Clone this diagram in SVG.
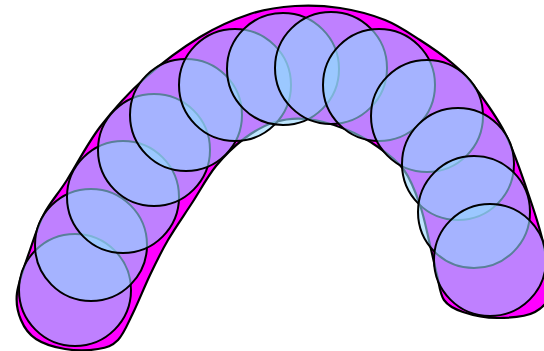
<svg xmlns="http://www.w3.org/2000/svg" width="544" height="351" viewBox="0 0 544 351">
<style>
.hull{fill:#ff00ff;stroke:#000;stroke-width:2.2;stroke-linejoin:round}
.c{fill:#94d5ff;fill-opacity:0.6;stroke:#000;stroke-width:2}
</style>
<rect width="544" height="351" fill="#fff"/>
<g id="hull">
<path class="hull" d="M 17,293 C 18.5,281.3 25.5,263.2 30,250 C 34.5,236.8 37.8,225.7 44,214 C 50.2,202.3 57.7,194.5 67,180 C 76.3,165.5 87,144 100,127 C 113,110 128.3,93 145,78 C 161.7,63 182.5,47.7 200,37 C 217.5,26.3 234.2,19.2 250,14 C 265.8,8.8 280,7 295,6 C 310,5 325,5.7 340,8 C 355,10.3 371.7,14.7 385,20 C 398.3,25.3 408.8,32.8 420,40 C 431.2,47.2 443,55.3 452,63 C 461,70.7 465.2,74.3 474,86 C 482.8,97.7 496.2,115.7 505,133 C 513.8,150.3 520.7,171.8 527,190 C 533.3,208.2 539.2,225.3 543,242 C 546.8,258.7 551.3,278.3 550,290 C 548.7,301.7 543.8,307.3 535,312 C 526.2,316.7 509,318 497,318 C 485,318 471.8,315 463,312 C 454.2,309 448.3,306.2 444,300 C 439.7,293.8 439.3,284.2 437,275 C 434.7,265.8 432.8,256.7 430,245 C 427.2,233.3 424.3,217.5 420,205 C 415.7,192.5 411,179.7 404,170 C 397,160.3 387.8,153.8 378,147 C 368.2,140.2 356.8,133.7 345,129 C 333.2,124.3 318.7,120.2 307,119 C 295.3,117.8 285.3,118.8 275,122 C 264.7,125.2 254.8,130.7 245,138 C 235.2,145.3 224.8,155.2 216,166 C 207.2,176.8 200,190.7 192,203 C 184,215.3 175,228 168,240 C 161,252 155.8,262.8 150,275 C 144.2,287.2 138.3,302.2 133,313 C 127.7,323.8 123.8,334 118,340 C 112.2,346 106.8,347.5 98,349 C 89.2,350.5 75.3,350.7 65,349 C 54.7,347.3 43.3,343.8 36,339 C 28.7,334.2 24.2,327.7 21,320 C 17.8,312.3 15.5,304.7 17,293 Z"/>
</g>
<g id="c1"><circle class="c" cx="75" cy="290" r="56"/></g>
<g id="c2"><circle class="c" cx="91" cy="245" r="56"/></g>
<g id="c3"><circle class="c" cx="123" cy="197" r="56"/></g>
<g id="c4"><circle class="c" cx="154" cy="150" r="56"/></g>
<g id="c5"><circle class="c" cx="186" cy="115" r="56"/></g>
<g id="c6"><circle class="c" cx="235" cy="85" r="56"/></g>
<g id="c7"><circle class="c" cx="283" cy="69" r="56"/></g>
<g id="c8"><circle class="c" cx="331" cy="68" r="56"/></g>
<g id="c9"><circle class="c" cx="379" cy="85" r="56"/></g>
<g id="c10"><circle class="c" cx="427" cy="116" r="56"/></g>
<g id="c11"><circle class="c" cx="458" cy="164" r="56"/></g>
<g id="c12"><circle class="c" cx="474" cy="212" r="56"/></g>
<g id="c13"><circle class="c" cx="490" cy="260" r="56"/></g>
</svg>
